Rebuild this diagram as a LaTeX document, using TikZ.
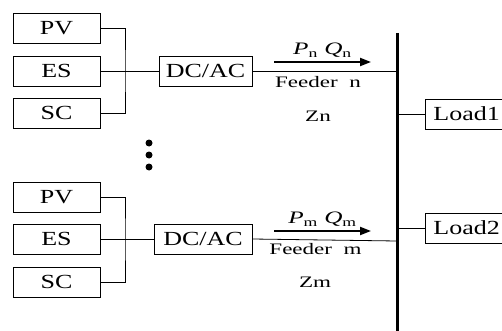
\documentclass[tikz,border=0pt]{standalone}
\usepackage{fontspec}
\setmainfont[FakeStretch=1.3]{Liberation Serif}
\newfontfamily\lblfont[FakeStretch=1.44]{Liberation Serif}
\usetikzlibrary{positioning,arrows.meta}
\tikzset{
  src/.style={rectangle,draw,line width=0.8pt,minimum width=87pt,minimum height=30pt,
    inner sep=0pt,font=\fontsize{20}{22}\selectfont},
  conv/.style={src,minimum width=93pt},
  load/.style={src,anchor=west,minimum width=0pt,inner xsep=8pt},
  wire/.style={line width=0.8pt},
  bus/.style={line width=3pt},
  pq/.style={-{Triangle[length=11pt,width=8pt]},line width=2pt},
  lbl/.style={font=\lblfont\fontsize{16}{18}\selectfont},
  pqlbl/.style={font=\lblfont\fontsize{17.5}{19}\selectfont},
}

\begin{document}
\begin{tikzpicture}[x=1pt,y=-1pt]
  \useasboundingbox (0,0) rectangle (502,331);
  % feeder n
  \node[src] (pvA) at (56.5,28) {PV};
  \node[src] (esA) at (56.5,71) {ES};
  \node[src] (scA) at (56.5,113) {SC};
  \coordinate (jA) at (125,71);
  \node[conv] (dcA) at (205.5,71) {DC/AC};
  \draw[wire] (pvA.east) -| (jA) |- (scA.east);
  \draw[wire] (esA.east) -- (dcA.west);
  % feeder m
  \node[src] (pvB) at (56.5,197) {PV};
  \node[src] (esB) at (56.5,239) {ES};
  \node[src] (scB) at (56.5,282) {SC};
  \coordinate (jB) at (125,239);
  \node[conv,minimum width=98pt] (dcB) at (203,239) {DC/AC};
  \draw[wire] (pvB.east) -| (jB) |- (scB.east);
  \draw[wire] (esB.east) -- (dcB.west);
  \foreach \y in {143,155,167}
    \fill (149,\y) circle (3.5);
  % bus and loads
  \coordinate (busTop) at (397,33);
  \coordinate (busBot) at (397,331);
  \draw[bus] (busTop) -- (busBot);
  \coordinate (fB) at (397,241);
  \draw[wire] (dcA.east) -- (dcA.east -| busTop);
  \draw[wire] (dcB.east) -- (fB);
  \node[load] (loadA) at (425,114) {Load1};
  \node[load] (loadB) at (425,228) {Load2};
  \draw[wire] (loadA.west -| busTop) -- (loadA.west);
  \draw[wire] (loadB.west -| busTop) -- (loadB.west);
  % power flow
  \coordinate (aA0) at (274,62);
  \coordinate (aA1) at (371,62);
  \draw[pq] (aA0) -- node[pqlbl,above=0pt]{\textit{P}\textsubscript{n} \textit{Q}\textsubscript{n}} (aA1);
  \node[lbl] (fdA) at (318,82) {Feeder~~n};
  \node[lbl] (zA) at (318,116) {Zn};
  \coordinate (aB0) at (274,231);
  \coordinate (aB1) at (371,231);
  \draw[pq] (aB0) -- node[pqlbl,above=0pt]{\textit{P}\textsubscript{m} \textit{Q}\textsubscript{m}} (aB1);
  \node[lbl] (fdB) at (315.5,249) {Feeder~~m};
  \node[lbl] (zB) at (315,282) {Zm};
\end{tikzpicture}
\end{document}
